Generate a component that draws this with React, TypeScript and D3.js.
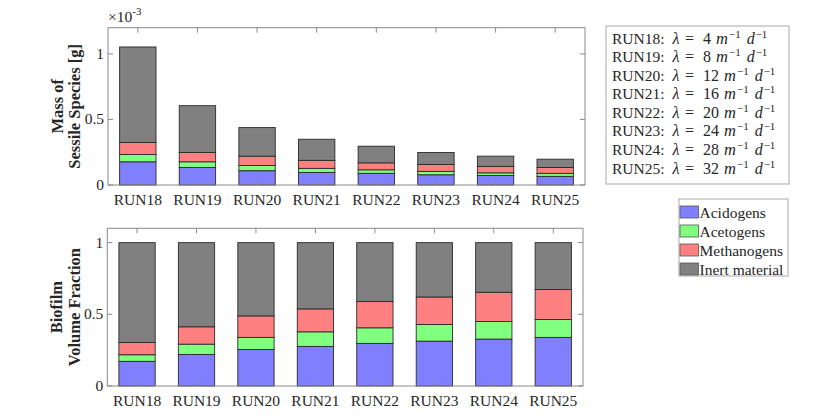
import React from "react";
import * as d3 from "d3";

const runs = ["RUN18", "RUN19", "RUN20", "RUN21", "RUN22", "RUN23", "RUN24", "RUN25"];
const lambdas = [4, 8, 12, 16, 20, 24, 28, 32];
const species = ["Acidogens", "Acetogens", "Methanogens", "Inert material"];
const colors = ["#8080ff", "#80ff80", "#ff8080", "#808080"];

// mass of sessile species, units of 1e-3 g
const massAcid = [0.177, 0.134, 0.109, 0.096, 0.089, 0.078, 0.073, 0.066];
const massAcet = [0.056, 0.043, 0.040, 0.031, 0.027, 0.026, 0.020, 0.023];
const massMeth = [0.091, 0.071, 0.071, 0.061, 0.053, 0.053, 0.049, 0.045];
const massInert = [0.729, 0.357, 0.218, 0.161, 0.127, 0.091, 0.078, 0.063];

// biofilm volume fractions
const fracAcid = [0.172, 0.220, 0.255, 0.276, 0.297, 0.313, 0.327, 0.339];
const fracAcet = [0.046, 0.072, 0.084, 0.102, 0.109, 0.116, 0.123, 0.125];
const fracMeth = [0.086, 0.121, 0.150, 0.160, 0.183, 0.192, 0.204, 0.209];
const fracInert = [0.696, 0.587, 0.511, 0.462, 0.411, 0.379, 0.346, 0.327];

const yTicks = [0, 0.5, 1];

const FONT = '"Liberation Serif", "Times New Roman", Times, serif';
const AXC = "#8a8a8a";
const TXT = "#262626";

type PanelProps = {
  x0: number; x1: number; y0: number; y1: number; ymax: number;
  series: number[][]; label: string[]; tickBase: number; labelX: number[];
};

function Panel({ x0, x1, y0, y1, ymax, series, label, tickBase, labelX }: PanelProps) {
  const x = d3.scaleLinear().domain([0.5, runs.length + 0.5]).range([x0, x1]);
  const y = d3.scaleLinear().domain([0, ymax]).range([y1, y0]);
  const bw = x(1.61) - x(1);
  const stackData = runs.map((r, i) => {
    const o: any = { run: r };
    species.forEach((s, k) => (o[s] = series[k][i]));
    return o;
  });
  const stacked = d3.stack().keys(species)(stackData);
  const tl = 5;
  const midY = (y0 + y1) / 2;
  return (
    <g>
      {stacked.map((layer, k) => (
        <g key={k}>
          {layer.map((d, i) => (
            <rect key={i} x={x(i + 1) - bw / 2} y={y(d[1])} width={bw}
              height={y(d[0]) - y(d[1])} fill={colors[k]} stroke="#2a2a2a" strokeWidth={0.9} />
          ))}
        </g>
      ))}
      <rect x={x0} y={y0} width={x1 - x0} height={y1 - y0} fill="none" stroke={AXC} strokeWidth={1} />
      {runs.map((r, i) => (
        <g key={r}>
          <line x1={x(i + 1)} x2={x(i + 1)} y1={y1} y2={y1 - tl} stroke={AXC} />
          <line x1={x(i + 1)} x2={x(i + 1)} y1={y0} y2={y0 + tl} stroke={AXC} />
          <text x={x(i + 1)} y={tickBase} textAnchor="middle" fontSize={15.5} fill={TXT}
            style={{ fontFamily: FONT }}>{r}</text>
        </g>
      ))}
      {yTicks.map((t) => (
        <g key={t}>
          <line x1={x0} x2={x0 + tl} y1={y(t)} y2={y(t)} stroke={AXC} />
          <line x1={x1} x2={x1 - tl} y1={y(t)} y2={y(t)} stroke={AXC} />
          <text x={x0 - 4} y={y(t) + 5} textAnchor="end" fontSize={15.5} fill={TXT}
            style={{ fontFamily: FONT }}>{t}</text>
        </g>
      ))}
      {label.map((l, k) => (
        <text key={k} transform={`translate(${labelX[k]},${midY}) rotate(-90)`} textAnchor="middle"
          fontSize={16.5} fontWeight="bold" fill={TXT} style={{ fontFamily: FONT }}>{l}</text>
      ))}
    </g>
  );
}

export default function App() {
  const lineY = d3.scaleLinear().domain([0, runs.length - 1]).range([43.5, 173.5]);
  const legY = d3.scaleLinear().domain([0, species.length - 1]).range([212, 269]);
  return (
    <svg width={830} height={418} style={{ position: "absolute", left: 0, top: 0, fontFamily: FONT }}>
      <rect width={830} height={418} fill="#fff" />
      <Panel x0={108} x1={585} y0={27.7} y1={185} ymax={1.2}
        series={[massAcid, massAcet, massMeth, massInert]}
        label={["Mass of", "Sessile Species [g]"]} tickBase={205} labelX={[63, 80]} />
      <text x={108} y={22} fontSize={15.5} fill={TXT} style={{ fontFamily: FONT }}>
        ×10<tspan dy={-7} fontSize={11}>-3</tspan>
      </text>
      <Panel x0={107.3} x1={583} y0={228.3} y1={386} ymax={1.1}
        series={[fracAcid, fracAcet, fracMeth, fracInert]}
        label={["Biofilm", "Volume Fraction"]} tickBase={406} labelX={[62, 80]} />
      <rect x={606} y={26} width={183} height={158} fill="#fff" stroke="#aaa" />
      {runs.map((r, i) => (
        <text key={r} x={612} y={lineY(i)} fontSize={15.5} fill={TXT} style={{ fontFamily: FONT }}>
          {r}:
          <tspan x={672.5} fontStyle="italic" fontSize={16}>λ</tspan>
          <tspan x={685} fontSize={16}>=</tspan>
          <tspan x={703} fontSize={16}>{lambdas[i]}</tspan>
          <tspan fontStyle="italic" dx={5} fontSize={16.5}>m</tspan>
          <tspan dy={-6} dx={1} fontSize={11}>−1</tspan>
          <tspan dy={6} dx={6} fontStyle="italic" fontSize={16}>d</tspan>
          <tspan dy={-6} dx={1} fontSize={11}>−1</tspan>
        </text>
      ))}
      <rect x={679} y={199} width={109} height={77} fill="#fff" stroke="#aaa" />
      {species.map((s, k) => (
        <g key={s}>
          <rect x={680} y={legY(k) - 6} width={18.5} height={12} fill={colors[k]} stroke="#555" strokeWidth={0.8} />
          <text x={699.5} y={legY(k) + 5.5} fontSize={15.5} fill={TXT} style={{ fontFamily: FONT }}>{s}</text>
        </g>
      ))}
    </svg>
  );
}
